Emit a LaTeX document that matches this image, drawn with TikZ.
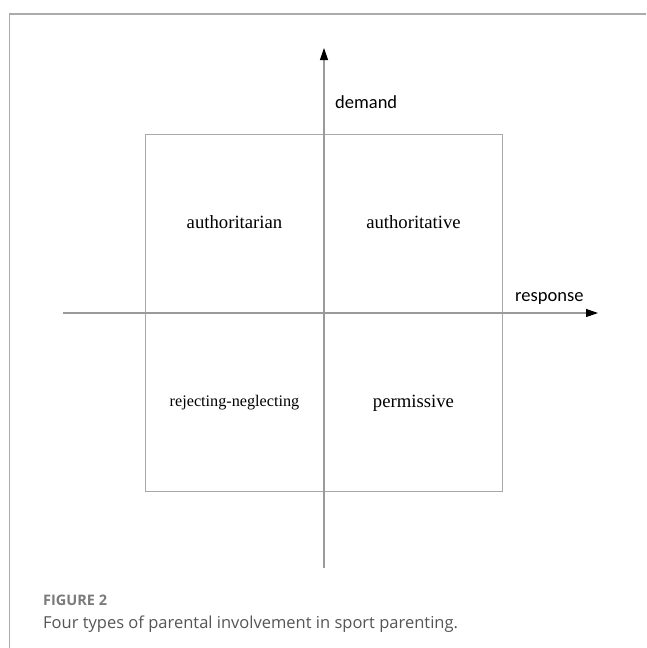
\documentclass[tikz,border=0pt]{standalone}
\usepackage{fontspec}
\setmainfont{Liberation Serif}
\newfontfamily\labelfont{Carlito}
\newfontfamily\capfont{Open Sans}
\usetikzlibrary{arrows.meta}
\definecolor{framegray}{HTML}{ABABAB}
\definecolor{axisgray}{HTML}{9A9A9A}
\definecolor{boxgray}{HTML}{A8A8A8}
\definecolor{capgray}{HTML}{7A7A7A}
\definecolor{captext}{HTML}{555555}
\tikzset{
  frameline/.style={draw=framegray, line width=1.5pt},
  axisline/.style={draw=axisgray, line width=1.1pt,
    -{Triangle[length=12pt,width=8pt,color=black]}},
  quadbox/.style={draw=boxgray, line width=1pt},
  quadlabel/.style={font=\fontsize{18.7}{20}\selectfont, inner sep=0pt},
  axislabel/.style={font=\labelfont\fontsize{18.5}{20}\selectfont, inner sep=0pt, anchor=west},
}
\begin{document}
\begin{tikzpicture}[x=1pt,y=-1pt]
  \useasboundingbox (0,0) rectangle (646,648);
  % figure frame (top and left edges)
  \coordinate (fbl) at (9.5,648);
  \coordinate (ftl) at (9.5,14);
  \coordinate (ftr) at (646,14);
  \draw[frameline] (fbl) -- (ftl) -- (ftr);

  % quadrant square
  \coordinate (boxtl) at (145,134);
  \coordinate (boxbr) at (502,491);
  \draw[quadbox] (boxtl) rectangle (boxbr);

  % axes
  \coordinate (ybot) at (324,568);
  \coordinate (ytop) at (324,48);
  \coordinate (xleft) at (63,313);
  \coordinate (xright) at (598,313);
  \draw[axisline] (ybot) -- (ytop);
  \draw[axisline] (xleft) -- (xright);

  % axis labels
  \node[axislabel] (demand) at (335,102) {demand};
  \node[axislabel] (response) at (515,298) {response};

  % quadrant labels
  \node[quadlabel] (q2) at (234.5,222) {authoritarian};
  \node[quadlabel] (q1) at (413.5,222) {authoritative};
  \node[quadlabel, font=\fontsize{16.2}{18}\selectfont] (q3) at (234.5,403) {rejecting-neglecting};
  \node[quadlabel] (q4) at (413.5,403) {permissive};

  % caption
  \node[anchor=west, inner sep=0pt, text=capgray,
        font=\capfont\bfseries\fontsize{14.5}{16}\selectfont] (fig) at (43,600) {FIGURE 2};
  \node[anchor=west, inner sep=0pt, text=captext,
        font=\capfont\fontsize{16.5}{18}\selectfont] (cap) at (43,624)
        {Four types of parental involvement in sport parenting.};
\end{tikzpicture}
\end{document}
